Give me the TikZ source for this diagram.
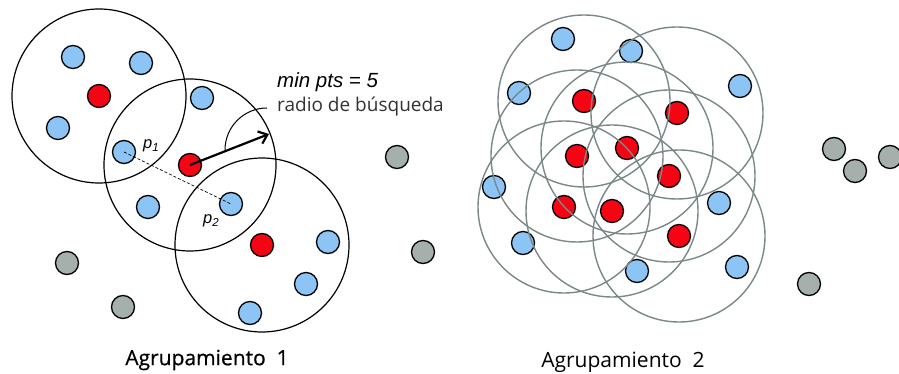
\documentclass[tikz,border=0pt]{standalone}
\usepackage{fontspec}
\setmainfont{Open Sans}
\newfontfamily\arialf{Liberation Sans}
\usetikzlibrary{arrows.meta}
\definecolor{dotblue}{RGB}{140,196,245}
\definecolor{dotred}{RGB}{245,5,20}
\definecolor{dotgrey}{RGB}{165,175,172}
\definecolor{ringgrey}{RGB}{122,136,136}
\definecolor{txtgrey}{RGB}{50,50,50}
\tikzset{
  dot/.style={circle, draw=black, line width=1.3pt, minimum size=23pt, inner sep=0pt},
  bd/.style={dot, fill=dotblue},
  rd/.style={dot, fill=dotred},
  gd/.style={dot, fill=dotgrey},
  ring/.style={draw=black, line width=1.2pt},
  gring/.style={draw=ringgrey, line width=1.4pt},
  lbl/.style={inner sep=0pt, anchor=west},
}
\begin{document}
\begin{tikzpicture}[x=1pt,y=-1pt]
\useasboundingbox (0,0) rectangle (899,374);
% ---- Cluster 1 dots
\node[bd] (a1) at (73,57) {};
\node[bd] (a2) at (141,63) {};
\node[rd] (a3) at (99,96) {};
\node[bd] (a4) at (58,128) {};
\node[bd] (b1) at (202,98) {};
\node[bd] (p1) at (124,152) {};
\node[rd] (bR) at (190,165) {};
\node[bd] (b3) at (148,207) {};
\node[bd] (p2) at (231,204) {};
\node[rd] (c1) at (262,245) {};
\node[bd] (c2) at (328,242) {};
\node[bd] (c3) at (306,284) {};
\node[bd] (c4) at (250,313) {};
\node[gd] (g1) at (67,263) {};
\node[gd] (g2) at (123,307) {};
\node[gd] (g3) at (423,252) {};
\node[gd] (g4) at (397,157) {};
% circles
\draw[ring] (a3) circle[radius=87];
\draw[ring] (bR) circle[radius=86];
\draw[ring] (c1) circle[radius=87];
% dashed p1-p2
\draw[dashed, line width=0.7pt, dash pattern=on 3pt off 2pt] (p1.center) -- (p2.center);
\node[lbl, font=\arialf\itshape\fontsize{16.5}{16.5}\selectfont] (lp1) at (143,146) {p\textsubscript{1}};
\node[lbl, font=\arialf\itshape\fontsize{16.5}{16.5}\selectfont] (lp2) at (203,221) {p\textsubscript{2}};
% arrow
\coordinate (tip) at (269,134);
\draw[line width=2.2pt, -{Straight Barb[length=8pt,width=13pt,line width=2.2pt]}] (bR.center) -- (tip);
\coordinate (arcS) at (225,150);
\draw[line width=1pt] (arcS) arc[start angle=180, end angle=270, radius=42] coordinate (arcE);
\node[lbl, font=\arialf\itshape\fontsize{20.5}{20.5}\selectfont] (minpts) at (277,82) {min pts = 5};
\node[lbl, text=txtgrey, font=\fontsize{19}{19}\selectfont] (radio) at (277,107) {radio de búsqueda};
\node[font=\fontsize{21}{21}\selectfont\addfontfeature{FakeBold=0.6}] (ag1) at (207,360) {Agrupamiento\ \ 1};
% ---- Cluster 2 dots
\node[rd] (r1) at (584,101) {};
\node[rd] (r2) at (677,113) {};
\node[rd] (r3) at (577,156) {};
\node[rd] (r4) at (627,148) {};
\node[rd] (r5) at (669,176) {};
\node[rd] (r6) at (564,207) {};
\node[rd] (r7) at (612,211) {};
\node[rd] (r8) at (679,236) {};
\node[bd] (s1) at (563,39) {};
\node[bd] (s2) at (631,51) {};
\node[bd] (s3) at (740,86) {};
\node[bd] (s4) at (519,93) {};
\node[bd] (s5) at (494,187) {};
\node[bd] (s6) at (719,203) {};
\node[bd] (s7) at (523,243) {};
\node[bd] (s8) at (637,271) {};
\node[bd] (s9) at (737,267) {};
\node[gd] (h1) at (809,284) {};
\node[gd] (h2) at (855,171) {};
\node[gd] (h3) at (834,149) {};
\node[gd] (h4) at (890,157) {};
\foreach \r in {r1,r2,r3,r4,r5,r6,r7,r8}{\draw[gring] (\r) circle[radius=86];}
\node[font=\fontsize{21}{21}\selectfont] (ag2) at (623,362) {Agrupamiento\ \ 2};
\end{tikzpicture}
\end{document}
